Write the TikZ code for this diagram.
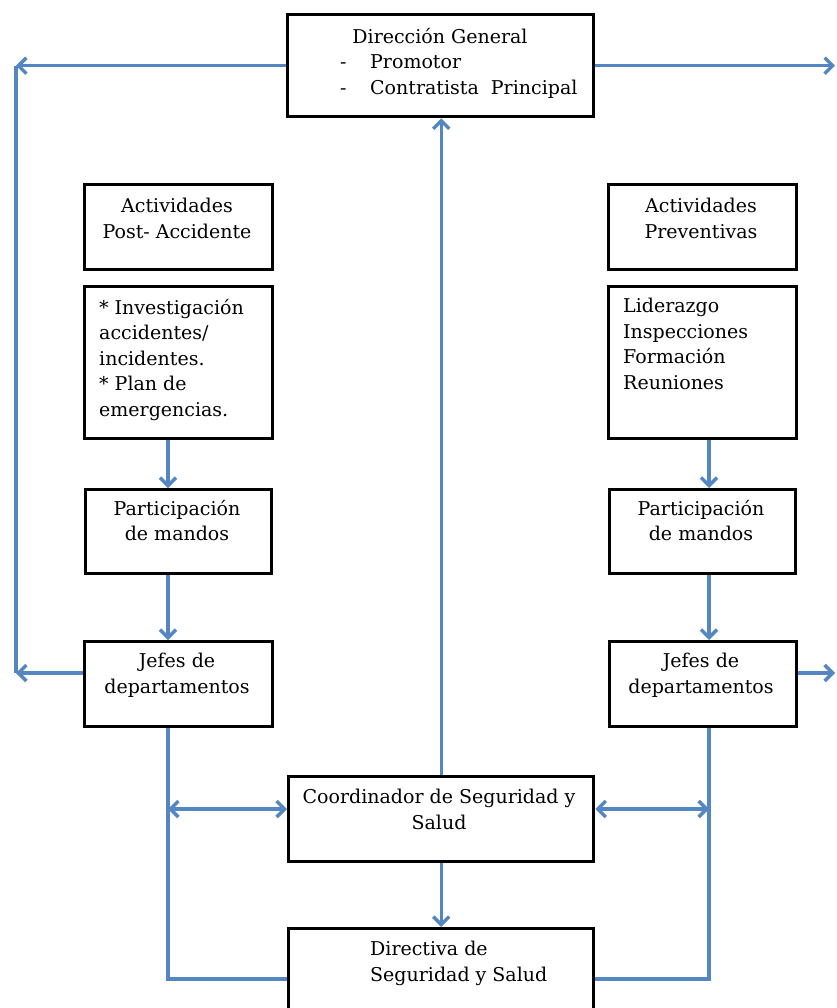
\documentclass[tikz,border=0pt]{standalone}
\usepackage{fontspec}
\setmainfont{DejaVu Serif}
\usetikzlibrary{arrows.meta}
\definecolor{arr}{RGB}{84,135,194}
\begin{document}
\begin{tikzpicture}[x=1pt,y=-1pt,
  box/.style={draw=black, line width=3.4pt, inner sep=0pt, anchor=north west},
  lbl/.style={font=\fontsize{19}{25.5}\selectfont, inner sep=0pt, align=center, anchor=north},
  lbll/.style={font=\fontsize{19}{25.5}\selectfont, inner sep=0pt, align=left, anchor=north west},
  lbls/.style={font=\fontsize{19}{25.5}\selectfont, inner sep=0pt},
  conn/.style={draw=arr, line width=3.4pt},
  arrow/.style={conn, -{Straight Barb[length=8pt,width=16pt]}},
  darrow/.style={conn, {Straight Barb[length=8pt,width=16pt]}-{Straight Barb[length=8pt,width=16pt]}},
]
\useasboundingbox (0,0) rectangle (836,1008);
\fill[white] (0,0) rectangle (836,1008);

% boxes
\node[box, minimum width=306pt, minimum height=102pt] (dir) at (286,13) {};
\node[box, minimum width=188pt, minimum height=85pt] (apa) at (83,183) {};
\node[box, minimum width=188pt, minimum height=152pt] (ia) at (83,285) {};
\node[box, minimum width=186pt, minimum height=84pt] (pl) at (84,488) {};
\node[box, minimum width=188pt, minimum height=85pt] (jl) at (83,640) {};
\node[box, minimum width=188pt, minimum height=85pt] (apr) at (607,183) {};
\node[box, minimum width=188pt, minimum height=152pt] (lid) at (607,285) {};
\node[box, minimum width=186pt, minimum height=84pt] (pr) at (608,488) {};
\node[box, minimum width=187pt, minimum height=85pt] (jr) at (608,640) {};
\node[box, minimum width=305pt, minimum height=85pt] (coord) at (287,775) {};
\node[box, minimum width=305pt, minimum height=120pt] (dire) at (287,927) {};

% texts
\node[lbls, anchor=base] (d1) at (440,44) {Dirección General};
\node[lbls, anchor=base west] (d2) at (340,69) {-};
\node[lbls, anchor=base west] (d3) at (370,69) {Promotor};
\node[lbls, anchor=base west] (d4) at (340,95) {-};
\node[lbls, anchor=base west] (d5) at (370,95) {Contratista\ \ Principal};
\node[lbl] (tapa) at (177,198) {Actividades\\Post- Accidente};
\node[lbll] (tia) at (99,299) {* Investigación\\accidentes/\\incidentes.\\* Plan de\\emergencias.};
\node[lbl] (tpl) at (177,500) {Participación\\de mandos};
\node[lbl] (tjl) at (177,653) {Jefes de\\departamentos};
\node[lbl] (tapr) at (701,198) {Actividades\\Preventivas};
\node[lbll] (tlid) at (623,298) {Liderazgo\\Inspecciones\\Formación\\Reuniones};
\node[lbl] (tpr) at (701,500) {Participación\\de mandos};
\node[lbl] (tjr) at (701,653) {Jefes de\\departamentos};
\node[lbl] (tco) at (439,789) {Coordinador de Seguridad y\\Salud};
\node[lbll] (tdi) at (370,941) {Directiva de\\Seguridad y Salud};

% connector coordinates
\coordinate (lx) at (16,0);
\coordinate (rx) at (835,0);
\coordinate (lt) at (dir.west -| lx);
\coordinate (rt) at (dir.east -| rx);
\coordinate (lb) at (16,673);
\coordinate (rb) at (835,673);
\coordinate (lcol) at (168,809);
\coordinate (lbot) at (168,979);
\coordinate (rcol) at (709,809);
\coordinate (rbot) at (709,979);

% outer connectors
\draw[conn] (lt) -- (lb);
\draw[arrow] (dir.west) -- (lt);
\draw[arrow] (jl.west |- lb) -- (lb);
\draw[arrow] (dir.east) -- (rt);
\draw[arrow] (jr.east |- rb) -- (rb);

% centre
\draw[arrow] (coord.north) -- (coord.north |- dir.south);
\draw[arrow] (coord.south) -- (coord.south |- dire.north);

% left column
\draw[arrow] (ia.south -| lcol) -- (pl.north -| lcol);
\draw[arrow] (pl.south -| lcol) -- (jl.north -| lcol);
\draw[conn] (jl.south -| lcol) -- (lbot) -- (dire.west |- lbot);
\draw[darrow] (lcol) -- (coord.west |- lcol);

% right column
\draw[arrow] (lid.south -| rcol) -- (pr.north -| rcol);
\draw[arrow] (pr.south -| rcol) -- (jr.north -| rcol);
\draw[conn] (jr.south -| rcol) -- (rbot) -- (dire.east |- rbot);
\draw[darrow] (rcol) -- (coord.east |- rcol);
\end{tikzpicture}
\end{document}
